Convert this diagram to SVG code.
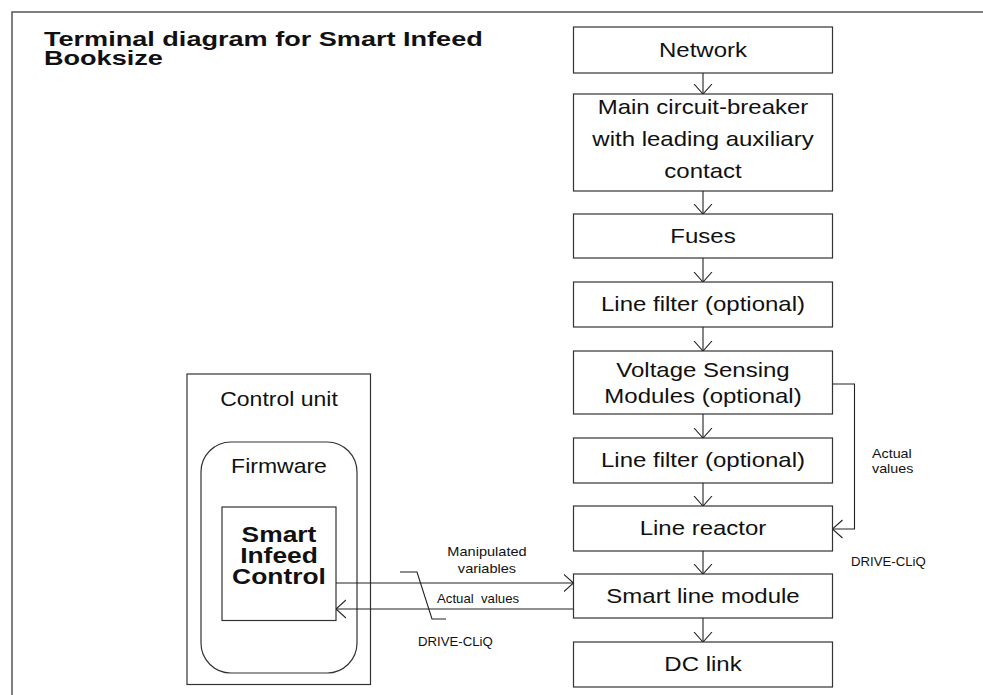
<svg xmlns="http://www.w3.org/2000/svg" width="983" height="695" viewBox="0 0 983 695">
<style>
text{font-family:"Liberation Sans",Arial,sans-serif;fill:#111}
.box{fill:#fff;stroke:#333;stroke-width:1.2}
.t{font-size:20px;text-anchor:middle}
.b{font-weight:bold}
.big{font-size:22px}
.s{font-size:13px}
.xs{font-size:12px}
.ln{fill:none;stroke:#222;stroke-width:1.1}
</style>
<defs>
<marker id="ah" viewBox="0 0 10 20" refX="10" refY="10" markerWidth="10" markerHeight="20" markerUnits="userSpaceOnUse" orient="auto">
<path d="M0,1 L10,10 L0,19" fill="none" stroke="#222" stroke-width="1.1"/>
</marker>
</defs>
<rect width="983" height="695" fill="#fff"/>
<path d="M12,695 V12 H983" fill="none" stroke="#555" stroke-width="1.5"/>
<g id="title">
<text class="b" font-size="21" transform="translate(44 46) scale(1.29 1)">Terminal diagram for Smart Infeed</text>
<text class="b" font-size="21" transform="translate(44 65) scale(1.29 1)">Booksize</text>
</g>
<g id="network"><rect class="box" x="573.5" y="27" width="259" height="46"/>
<text class="t" transform="translate(703 57) scale(1.2 1)">Network</text></g>
<g id="breaker"><rect class="box" x="573.5" y="94" width="259" height="97"/>
<text class="t" transform="translate(703 114) scale(1.2 1)">Main circuit-breaker</text>
<text class="t" transform="translate(703 146) scale(1.2 1)">with leading auxiliary</text>
<text class="t" transform="translate(703 178) scale(1.2 1)">contact</text></g>
<g id="fuses"><rect class="box" x="573.5" y="214" width="259" height="44"/>
<text class="t" transform="translate(703 243) scale(1.2 1)">Fuses</text></g>
<g id="filter1"><rect class="box" x="573.5" y="282" width="259" height="45"/>
<text class="t" transform="translate(703 311) scale(1.2 1)">Line filter (optional)</text></g>
<g id="vsm"><rect class="box" x="573.5" y="351" width="259" height="63"/>
<text class="t" transform="translate(703 377) scale(1.2 1)">Voltage Sensing</text>
<text class="t" transform="translate(703 403) scale(1.2 1)">Modules (optional)</text></g>
<g id="filter2"><rect class="box" x="573.5" y="438" width="259" height="45"/>
<text class="t" transform="translate(703 467) scale(1.2 1)">Line filter (optional)</text></g>
<g id="reactor"><rect class="box" x="573.5" y="506" width="259" height="45"/>
<text class="t" transform="translate(703 535) scale(1.2 1)">Line reactor</text></g>
<g id="slm"><rect class="box" x="573.5" y="574" width="259" height="44"/>
<text class="t" transform="translate(703 603) scale(1.2 1)">Smart line module</text></g>
<g id="dclink"><rect class="box" x="573.5" y="642" width="259" height="45"/>
<text class="t" transform="translate(703 671) scale(1.2 1)">DC link</text></g>
<g id="controlunit"><rect class="box" x="187" y="374" width="183.5" height="310.5"/>
<text class="t" transform="translate(279 406) scale(1.15 1)">Control unit</text></g>
<g id="firmware"><rect class="box" x="201" y="442" width="156" height="231" rx="30" ry="30"/>
<text class="t" transform="translate(279 473) scale(1.15 1)">Firmware</text></g>
<g id="sic"><rect class="box" x="222" y="507" width="114" height="113.5"/>
<text class="t b big" transform="translate(279 542) scale(1.2 1)">Smart</text>
<text class="t b big" transform="translate(279 563) scale(1.2 1)">Infeed</text>
<text class="t b big" transform="translate(279 584) scale(1.2 1)">Control</text></g>
<g id="connectors">
<line class="ln" x1="703" y1="73" x2="703" y2="94" marker-end="url(#ah)"/>
<line class="ln" x1="703" y1="191" x2="703" y2="214" marker-end="url(#ah)"/>
<line class="ln" x1="703" y1="258" x2="703" y2="282" marker-end="url(#ah)"/>
<line class="ln" x1="703" y1="327" x2="703" y2="351" marker-end="url(#ah)"/>
<line class="ln" x1="703" y1="414" x2="703" y2="438" marker-end="url(#ah)"/>
<line class="ln" x1="703" y1="483" x2="703" y2="506" marker-end="url(#ah)"/>
<line class="ln" x1="703" y1="551" x2="703" y2="574" marker-end="url(#ah)"/>
<line class="ln" x1="703" y1="618" x2="703" y2="642" marker-end="url(#ah)"/>
<polyline class="ln" points="832.5,384 854.5,384 854.5,529 832.5,529" marker-end="url(#ah)"/>
<line class="ln" x1="336" y1="583" x2="573.5" y2="583" marker-end="url(#ah)"/>
<line class="ln" x1="573.5" y1="609" x2="336" y2="609" marker-end="url(#ah)"/>
<polyline class="ln" points="400,572 417,572 432,619 446,619"/>
<text class="s" transform="translate(872 458) scale(1.1 1)">Actual</text>
<text class="s" transform="translate(872 473) scale(1.1 1)">values</text>
<text class="xs" transform="translate(851 566) scale(1.1 1)">DRIVE-CLiQ</text>
<text class="s" text-anchor="middle" transform="translate(487 556) scale(1.12 1)">Manipulated</text>
<text class="s" text-anchor="middle" transform="translate(487 573) scale(1.12 1)">variables</text>
<text class="xs" transform="translate(437 603) scale(1.1 1)" xml:space="preserve">Actual  values</text>
<text class="xs" transform="translate(418 646) scale(1.1 1)">DRIVE-CLiQ</text>
</g>
</svg>
